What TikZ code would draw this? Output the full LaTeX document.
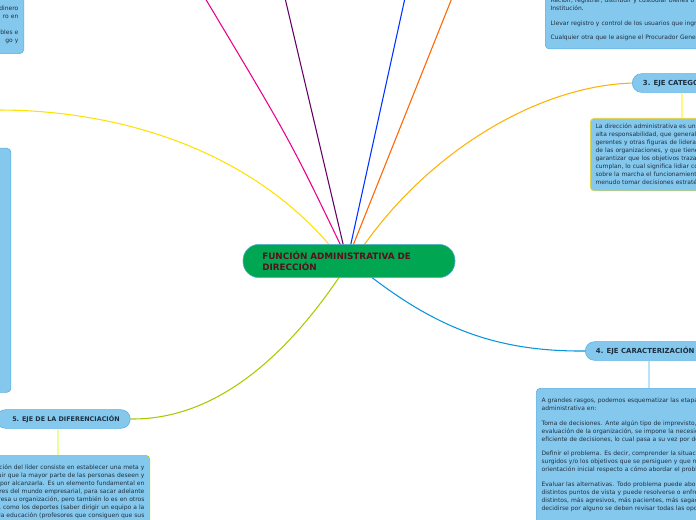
\documentclass[tikz,border=0pt]{standalone}
\usepackage{fontspec}
\setmainfont{DejaVu Sans}
\definecolor{boxblue}{HTML}{85C8EE}
\definecolor{boxline}{HTML}{5AAEE0}
\definecolor{maingreen}{HTML}{00A651}
\definecolor{titlered}{HTML}{5A0F1A}
\definecolor{txt}{HTML}{1F2F3F}
\tikzset{
  topic/.style={draw=boxline, fill=boxblue, rounded corners=7pt, minimum height=14pt, inner xsep=8pt,
    font=\fontsize{5.2}{6}\selectfont\bfseries, text=txt, anchor=west},
  note/.style={draw=boxline, fill=boxblue, rounded corners=3pt, anchor=north west, align=left,
    inner sep=4pt, font=\fontsize{4.5}{6}\selectfont, text=txt},
  branch/.style={line width=0.8pt},
}
\begin{document}
\begin{tikzpicture}[x=0.75pt,y=-0.75pt]
  \useasboundingbox (0,0) rectangle (696,520);
  \clip (0,0) rectangle (696,520);

  % free ends of the upper branches
  \coordinate (up1) at (205,-2);
  \coordinate (up2) at (285,-2);
  \coordinate (up3) at (405,-2);
  \coordinate (up4) at (452,-2);
  \coordinate (left1) at (-2,110);

  % 5 (placed first so the branch can end on it)
  \node[topic, font=\fontsize{4.8}{6}\selectfont\bfseries, minimum width=95pt] (t5) at (-4,419) {\hspace{4pt}5. EJE DE LA DIFERENCIACIÓN};

  % branches
  \draw[branch, magenta] (342,248) .. controls (290,140) .. (up1);
  \draw[branch, violet!80!black] (344,248) -- (up2);
  \draw[branch, blue!80!cyan] (350,248) -- (up3);
  \draw[branch, orange!80!red] (352,248) -- (up4);
  \draw[branch, yellow!85!orange] (332,248) .. controls (250,150) and (120,110) .. (left1);
  \draw[branch, orange!60!yellow] (362,248) .. controls (430,150) and (540,85) .. (634,83);
  \draw[branch, cyan!80!blue] (370,276) .. controls (440,330) and (500,352) .. (587,351);
  \draw[branch, lime!60!olive] (340,276) .. controls (290,350) and (220,420) .. (t5.east);

  % center
  \node[draw=boxline, fill=maingreen, rounded corners=12pt, minimum width=159pt, minimum height=25pt,
    text=titlered, font=\fontsize{6.6}{7.8}\selectfont\bfseries, align=left, text width=130pt,
    inner xsep=14pt] (main) at (349,261) {FUNCIÓN ADMINISTRATIVA DE\\DIRECCIÓN};

  % top-left box
  \node[note, anchor=north east, minimum height=43pt, text width=60pt, align=right] (tl) at (24,-4)
    {dinero\\ro en\\[6pt] bles e\\go y};

  % top-right box
  \node[note, minimum height=44pt, text width=160pt] (tr) at (545,-10)
    {Recibir, registrar, distribuir y custodiar bienes o s\\Institución.\\[5pt]
     Llevar registro y control de los usuarios que ingr\\[5pt]
     Cualquier otra que le asigne el Procurador Gener};

  % 3
  \node[topic] (t3) at (632,83) {3. EJE CATEGORÍA};
  \node[note, draw=yellow!70!orange, minimum height=49pt, text width=120pt] (n3) at (590,118)
    {La dirección administrativa es una\\alta responsabilidad, que generalm\\gerentes y otras figuras de lideraz\\de las organizaciones, y que tiene\\garantizar que los objetivos traza\\cumplan, lo cual significa lidiar co\\sobre la marcha el funcionamiento\\menudo tomar decisiones estratég};
  \draw[yellow!50, line width=0.8pt] (t3.south -| 682,0) -- (n3.north -| 682,0);

  % left long box
  \node[note, minimum height=183pt, text width=30pt] (lb) at (-40,148) {};

  % 4
  \node[topic] (t4) at (585,351) {4. EJE CARACTERIZACIÓN};
  \node[note, minimum height=110pt, text width=170pt] (n4) at (536,388)
    {A grandes rasgos, podemos esquematizar las etapa\\administrativa en:\\[5pt]
     Toma de decisiones. Ante algún tipo de imprevisto,\\evaluación de la organización, se impone la necesid\\eficiente de decisiones, lo cual pasa a su vez por de\\[5pt]
     Definir el problema. Es decir, comprender la situació\\surgidos y/o los objetivos que se persiguen y que n\\orientación inicial respecto a cómo abordar el proble\\[5pt]
     Evaluar las alternativas. Todo problema puede abor\\distintos puntos de vista y puede resolverse o enfre\\distintos, más agresivos, más pacientes, más sagac\\decidirse por alguno se deben revisar todas las opci\\[5pt]
     Tomar una decisión. Finalmente deberemos decanta};
  \draw[cyan!30, line width=0.8pt] (t4.south -| 649,0) -- (n4.north -| 649,0);

  \node[note, anchor=north east, draw=lime!60!olive, minimum height=60pt, text width=190pt, align=right] (n5) at (150,455)
    {La función del líder consiste en establecer una meta y\\conseguir que la mayor parte de las personas deseen y\\luchen por alcanzarla. Es un elemento fundamental en\\los gestores del mundo empresarial, para sacar adelante\\una empresa u organización, pero también lo es en otros\\ámbitos, como los deportes (saber dirigir un equipo a la\\victoria), la educación (profesores que consiguen que sus\\alumnos se identifiquen con su forma de pensar) y hasta};
  \draw[lime!40, line width=0.8pt] (t5.south -| 58,0) -- (n5.north -| 58,0);
\end{tikzpicture}
\end{document}
